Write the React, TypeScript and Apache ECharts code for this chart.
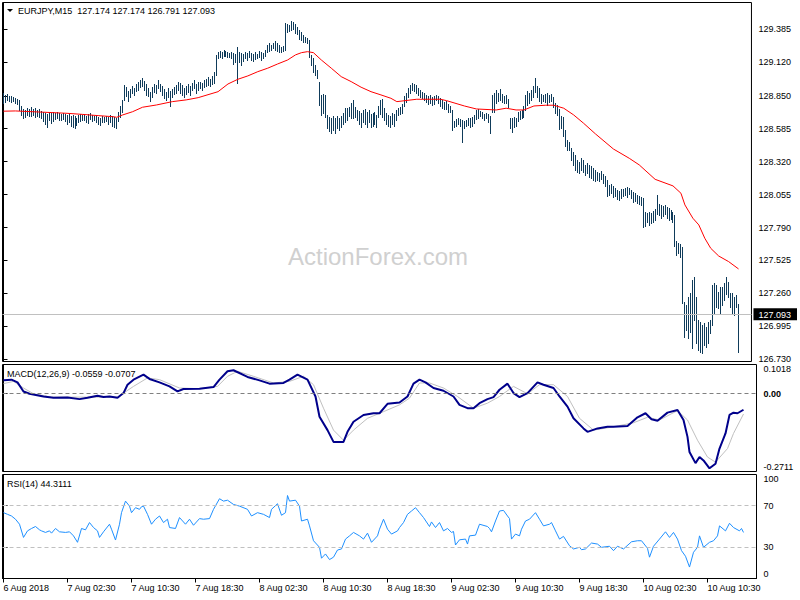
import React, { useEffect, useRef } from "react";
import * as echarts from "echarts";

const FONT = '"Liberation Sans", Arial, sans-serif';

// ---- OHLC bar highs / lows (EURJPY M15), bar 0 = 6 Aug 18:30 ----
const highs = [
128.873,128.857,128.865,128.849,128.849,128.841,128.833,128.825,128.817,128.769,
128.744,128.736,128.752,128.744,128.760,128.744,128.752,128.736,128.744,128.728,
128.720,128.712,128.704,128.720,128.712,128.720,128.712,128.720,128.712,128.704,
128.712,128.704,128.696,128.704,128.688,128.696,128.688,128.672,128.696,128.704,
128.696,128.704,128.688,128.704,128.712,128.696,128.688,128.696,128.680,128.672,
128.688,128.680,128.688,128.680,128.696,128.688,128.680,128.672,128.720,128.769,
128.817,128.937,128.921,128.889,128.905,128.929,128.913,128.945,128.961,128.977,
128.993,128.969,128.945,128.913,128.881,128.921,128.945,128.937,128.977,128.945,
128.929,128.905,128.881,128.913,128.889,128.905,128.921,128.937,128.961,128.953,
128.937,128.913,128.929,128.945,128.929,128.953,128.977,128.945,128.961,128.961,
128.953,128.977,128.985,129.002,128.985,129.010,129.042,129.179,129.203,129.211,
129.203,129.219,129.211,129.203,129.195,129.203,129.195,129.187,129.243,129.203,
129.195,129.187,129.203,129.195,129.211,129.195,129.187,129.203,129.187,129.211,
129.203,129.195,129.219,129.259,129.275,129.259,129.275,129.291,129.275,129.259,
129.243,129.251,129.436,129.428,129.420,129.452,129.444,129.428,129.404,129.380,
129.364,129.339,129.323,129.315,129.299,129.179,129.154,129.098,129.058,128.961,
128.857,128.865,128.857,128.696,128.680,128.672,128.688,128.672,128.688,128.672,
128.688,128.712,128.752,128.752,128.760,128.793,128.817,128.760,128.736,128.728,
128.712,128.736,128.744,128.720,128.736,128.704,128.712,128.720,128.696,128.769,
128.817,128.825,128.752,128.712,128.696,128.688,128.712,128.704,128.736,128.752,
128.760,128.785,128.849,128.873,128.913,128.937,128.953,128.945,128.937,128.913,
128.897,128.881,128.873,128.857,128.849,128.857,128.841,128.849,128.857,128.849,
128.833,128.817,128.801,128.809,128.785,128.769,128.736,128.648,128.664,128.672,
128.664,128.656,128.648,128.656,128.672,128.672,128.680,128.696,128.736,128.744,
128.728,128.720,128.704,128.712,128.704,128.688,128.857,128.873,128.897,128.873,
128.905,128.865,128.849,128.857,128.825,128.672,128.672,128.680,128.672,128.720,
128.728,128.736,128.769,128.857,128.889,128.873,128.897,128.929,128.993,128.929,
128.913,128.865,128.857,128.865,128.873,128.857,128.865,128.841,128.793,128.777,
128.744,128.688,128.680,128.575,128.495,128.479,128.430,128.398,128.374,128.334,
128.318,128.350,128.334,128.293,128.310,128.293,128.285,128.269,128.253,128.237,
128.229,128.245,128.221,128.205,128.173,128.133,128.141,128.125,128.108,128.092,
128.084,128.100,128.100,128.108,128.116,128.108,128.092,128.076,128.068,128.052,
128.044,128.036,128.028,127.916,127.908,127.916,127.908,127.924,127.940,128.052,
127.980,127.972,127.964,127.972,127.956,127.948,127.932,127.916,127.891,127.682,
127.666,127.658,127.634,127.192,127.168,127.232,127.264,127.368,127.392,127.232,
127.047,127.031,127.007,127.023,126.991,127.031,127.047,127.328,127.344,127.328,
127.272,127.312,127.312,127.344,127.392,127.352,127.264,127.264,127.232,127.248,
127.174
];

const lows = [
128.793,128.801,128.817,128.809,128.801,128.809,128.793,128.785,128.736,128.696,
128.672,128.680,128.696,128.688,128.688,128.696,128.680,128.688,128.680,128.672,
128.648,128.624,128.600,128.656,128.632,128.648,128.664,128.672,128.656,128.656,
128.664,128.648,128.624,128.640,128.608,128.600,128.592,128.616,128.640,128.648,
128.656,128.656,128.640,128.632,128.664,128.648,128.656,128.640,128.624,128.616,
128.640,128.640,128.648,128.624,128.640,128.608,128.600,128.592,128.648,128.680,
128.720,128.817,128.849,128.809,128.841,128.873,128.857,128.889,128.897,128.921,
128.929,128.897,128.857,128.849,128.809,128.841,128.881,128.873,128.913,128.889,
128.857,128.833,128.817,128.841,128.769,128.841,128.865,128.873,128.897,128.873,
128.857,128.841,128.865,128.881,128.857,128.897,128.913,128.873,128.897,128.913,
128.897,128.921,128.929,128.937,128.929,128.945,128.953,129.018,129.154,129.162,
129.154,129.170,129.170,129.162,129.162,129.154,129.106,129.122,128.953,129.122,
129.098,129.130,129.154,129.138,129.162,129.138,129.130,129.146,129.154,129.162,
129.138,129.154,129.170,129.203,129.211,129.219,129.235,129.219,129.211,129.203,
129.203,129.211,129.219,129.364,129.372,129.380,129.388,129.356,129.348,129.307,
129.299,129.283,129.283,129.275,129.162,129.098,129.042,129.018,128.993,128.777,
128.696,128.712,128.680,128.592,128.567,128.551,128.575,128.551,128.592,128.575,
128.600,128.624,128.640,128.656,128.688,128.672,128.672,128.680,128.656,128.624,
128.600,128.640,128.624,128.600,128.640,128.600,128.608,128.624,128.600,128.680,
128.704,128.680,128.656,128.624,128.608,128.600,128.624,128.608,128.656,128.696,
128.704,128.712,128.769,128.801,128.841,128.873,128.897,128.889,128.873,128.857,
128.841,128.833,128.817,128.801,128.785,128.793,128.777,128.785,128.817,128.793,
128.769,128.752,128.744,128.744,128.720,128.720,128.575,128.600,128.608,128.624,
128.608,128.479,128.592,128.608,128.616,128.600,128.608,128.632,128.664,128.672,
128.688,128.672,128.656,128.672,128.640,128.551,128.720,128.720,128.793,128.809,
128.817,128.801,128.793,128.793,128.760,128.592,128.559,128.600,128.608,128.648,
128.664,128.672,128.680,128.736,128.777,128.793,128.817,128.841,128.881,128.841,
128.809,128.793,128.809,128.801,128.777,128.801,128.809,128.760,128.712,128.696,
128.583,128.592,128.527,128.446,128.414,128.414,128.334,128.293,128.253,128.237,
128.229,128.253,128.237,128.213,128.229,128.197,128.189,128.173,128.165,128.173,
128.165,128.181,128.149,128.125,128.044,128.052,128.068,128.036,128.044,128.020,
128.012,128.028,128.044,128.052,128.036,128.060,128.028,127.996,128.004,127.988,
127.980,127.972,127.795,127.803,127.835,127.811,127.827,127.835,127.851,127.900,
127.892,127.867,127.883,127.900,127.867,127.851,127.859,127.835,127.642,127.570,
127.586,127.553,127.184,126.910,126.966,126.902,126.950,126.821,127.047,126.862,
126.805,126.789,126.781,126.846,126.830,126.862,126.942,127.007,127.103,127.151,
127.143,127.103,127.168,127.208,127.256,127.232,127.151,127.103,127.087,127.151,
126.791
];

// ---- moving average (red), [bar index, price] ----
const maPoints = [
[0,128.726],[6,128.728],[20,128.718],[32,128.709],[40,128.700],[48,128.690],[55,128.682],[57,128.677],
[60,128.696],[65,128.722],[70,128.758],[77,128.776],[85,128.803],[92,128.817],[98,128.835],
[108,128.883],[113,128.945],[118,128.983],[123,129.010],[128,129.044],[133,129.072],[138,129.106],
[143,129.138],[147,129.179],[150,129.197],[153,129.205],[156,129.197],[160,129.138],[165,129.072],
[170,129.004],[175,128.964],[180,128.919],[185,128.883],[190,128.857],[195,128.830],[198,128.803],
[208,128.822],[220,128.822],[223,128.811],[232,128.768],[238,128.744],[248,128.736],[253,128.750],
[258,128.736],[262,128.736],[267,128.768],[273,128.774],[277,128.774],[282,128.750],[287,128.696],
[292,128.629],[298,128.543],[307,128.422],[315,128.347],[320,128.294],[328,128.178],[337,128.125],
[341,128.066],[343,127.972],[347,127.865],[350,127.811],[353,127.704],[356,127.623],[360,127.561],
[365,127.516],[370,127.457]
];

// ---- MACD(12,26,9) main and signal ----
const macdPoints = [
[0,0.0466],[4,0.0490],[7,0.0395],[10,0.0079],[13,-0.0002],[20,-0.0097],[25,-0.0143],[32,-0.0132],
[38,-0.0189],[42,-0.0143],[47,-0.0073],[50,-0.0118],[53,-0.0097],[57,-0.0143],[60,0.0022],[62,0.0314],
[65,0.0490],[70,0.0666],[73,0.0515],[78,0.0395],[83,0.0255],[87,0.0079],[90,0.0163],[98,0.0174],
[105,0.0233],[108,0.0490],[112,0.0782],[115,0.0817],[122,0.0585],[128,0.0466],[133,0.0350],[140,0.0374],
[143,0.0490],[147,0.0666],[152,0.0490],[156,-0.0097],[158,-0.0801],[162,-0.1269],[165,-0.1680],
[170,-0.1680],[172,-0.1329],[175,-0.0977],[180,-0.0741],[185,-0.0681],[188,-0.0681],[192,-0.0354],
[198,-0.0308],[202,-0.0097],[205,0.0350],[208,0.0490],[211,0.0395],[215,0.0198],[220,0.0103],
[225,-0.0097],[228,-0.0389],[232,-0.0505],[235,-0.0505],[238,-0.0329],[242,-0.0189],[245,-0.0118],
[248,0.0138],[252,0.0350],[255,0.0022],[258,-0.0118],[262,0.0022],[267,0.0395],[270,0.0314],
[275,0.0198],[278,-0.0097],[282,-0.0449],[285,-0.0857],[290,-0.1209],[292,-0.1329],[297,-0.1209],
[302,-0.1153],[305,-0.1153],[312,-0.1128],[317,-0.0822],[321,-0.0681],[324,-0.0892],[327,-0.0942],
[332,-0.0660],[337,-0.0565],[340,-0.0917],[342,-0.1504],[343,-0.2032],[346,-0.2419],[348,-0.2208],
[350,-0.2324],[353,-0.2600],[356,-0.2440],[358,-0.1912],[361,-0.1385],[363,-0.0741],[365,-0.0660],
[367,-0.0681],[370,-0.0559]
];

const signalPoints = [
[0,0.0350],[5,0.0430],[10,0.0198],[15,-0.0002],[24,-0.0118],[40,-0.0118],[57,-0.0118],[60,0.0022],
[65,0.0255],[72,0.0550],[78,0.0490],[88,0.0198],[98,0.0174],[107,0.0255],[112,0.0606],[117,0.0782],
[125,0.0606],[135,0.0374],[143,0.0430],[150,0.0606],[155,0.0314],[160,-0.0505],[165,-0.1269],
[170,-0.1621],[175,-0.1269],[182,-0.0857],[190,-0.0625],[198,-0.0389],[203,-0.0153],[208,0.0374],
[213,0.0374],[220,0.0198],[227,-0.0097],[235,-0.0505],[242,-0.0329],[248,-0.0097],[255,0.0255],
[262,-0.0002],[268,0.0314],[275,0.0314],[282,-0.0097],[288,-0.0857],[295,-0.1269],[305,-0.1153],
[315,-0.1012],[322,-0.0822],[328,-0.0917],[337,-0.0590],[342,-0.0917],[347,-0.1621],[352,-0.2208],
[356,-0.2384],[362,-0.1912],[365,-0.1385],[370,-0.0707]
];

// ---- RSI(14) ----
const rsiPoints = [
[0,63.3],[2,61.7],[4,60.1],[6,57.0],[8,52.2],[10,39.5],[12,45.8],[14,48.1],[16,50.0],[18,46.8],
[19,45.8],[21,44.3],[23,45.8],[24,43.6],[26,48.1],[28,44.9],[31,44.3],[33,44.9],[35,41.0],[37,34.8],
[39,48.1],[41,46.8],[43,53.8],[45,49.0],[47,45.8],[48,39.5],[50,44.9],[53,52.2],[54,47.4],[56,37.0],
[58,52.2],[59,63.3],[61,74.4],[63,69.6],[64,63.3],[66,68.1],[68,66.5],[69,69.0],[70,69.6],[72,61.7],
[74,52.2],[76,57.0],[78,60.1],[80,53.8],[82,57.0],[83,49.0],[86,48.1],[88,58.6],[91,52.2],[93,57.0],
[95,51.2],[98,57.6],[100,57.0],[103,57.6],[105,66.5],[108,76.7],[110,74.4],[112,75.3],[115,71.2],
[118,69.6],[122,66.5],[124,60.1],[127,63.3],[130,61.7],[133,58.6],[134,66.5],[137,71.9],[139,60.8],
[141,63.3],[142,79.8],[143,74.4],[146,75.3],[148,69.6],[149,55.3],[152,57.0],[153,50.6],[155,36.3],
[158,30.0],[159,19.5],[161,23.6],[163,18.2],[165,20.5],[167,27.4],[169,28.4],[171,37.9],[173,41.0],
[175,44.3],[178,41.0],[180,37.9],[182,43.6],[184,34.8],[187,41.0],[188,47.4],[190,57.0],[192,47.4],
[194,42.7],[197,45.8],[198,49.0],[200,53.8],[202,61.7],[204,64.9],[206,68.1],[208,63.3],[210,58.6],
[213,50.0],[214,54.4],[216,49.0],[218,53.8],[220,45.8],[222,48.1],[224,44.3],[225,45.2],[226,32.2],
[228,37.2],[231,37.9],[232,33.1],[233,41.0],[236,41.7],[238,52.2],[242,50.0],[243,48.1],[244,44.9],
[246,55.3],[248,64.9],[250,65.5],[252,60.1],[253,57.6],[254,37.9],[256,42.7],[258,41.0],[259,47.4],
[261,55.3],[263,57.0],[266,63.3],[268,57.0],[270,50.6],[273,52.2],[274,53.8],[276,45.8],[278,37.9],
[280,40.5],[283,31.5],[285,28.4],[288,30.0],[289,27.7],[291,28.4],[294,34.1],[297,33.1],[299,30.0],
[303,31.0],[305,26.8],[307,31.0],[310,28.4],[314,35.3],[317,36.3],[319,36.3],[322,29.0],[323,20.5],
[325,31.0],[328,37.9],[331,44.9],[333,39.5],[335,44.3],[337,37.9],[339,26.8],[341,21.4],[343,11.0],
[345,25.2],[347,30.0],[348,41.0],[350,30.0],[353,34.8],[355,36.3],[357,41.0],[358,50.6],[361,45.8],
[363,53.1],[365,49.0],[368,45.8],[369,48.1],[370,44.3]
];

// ---- axis ticks / labels ----
const priceTicks = [126.73, 126.995, 127.26, 127.525, 127.79, 128.055, 128.32, 128.585, 128.85, 129.12, 129.385];
const lastPrice = 127.093;
const macdTicks = [-0.2711, 0, 0.1018];
const rsiTicks = [0, 30, 70, 100];
const rsiLevels = [70, 30];
const timeTickIdx = [0, 32, 64, 96, 128, 160, 192, 224, 256, 288, 320, 352];
const timeLabels = [
  "6 Aug 2018", "7 Aug 02:30", "7 Aug 10:30", "7 Aug 18:30", "8 Aug 02:30", "8 Aug 10:30",
  "8 Aug 18:30", "9 Aug 02:30", "9 Aug 10:30", "9 Aug 18:30", "10 Aug 02:30", "10 Aug 10:30",
];
const titleText = "EURJPY,M15  127.174 127.174 126.791 127.093";
const macdText = "MACD(12,26,9) -0.0559 -0.0707";
const rsiText = "RSI(14) 44.3111";

export default function App() {
  const ref = useRef<HTMLDivElement>(null);

  useEffect(() => {
    const chart = echarts.init(ref.current as HTMLDivElement, null, { renderer: "svg" });
    const gridL = 2.5, gridW = 754;
    const xMin = -0.5, xMax = 376.5;
    const lbl = { color: "#000", fontSize: 9, fontFamily: FONT };

    const xHidden = (gi: number) => ({
      gridIndex: gi, type: "value", min: xMin, max: xMax, show: false,
    });

    const option: any = {
      animation: false,
      backgroundColor: "#fff",
      grid: [
        { left: gridL, top: 2.5, width: gridW, height: 359, show: true, borderColor: "#000", borderWidth: 1 },
        { left: gridL, top: 364.5, width: gridW, height: 107, show: true, borderColor: "#000", borderWidth: 1 },
        { left: gridL, top: 474.5, width: gridW, height: 104, show: true, borderColor: "#000", borderWidth: 1 },
      ],
      xAxis: [
        xHidden(0),
        xHidden(1),
        {
          gridIndex: 2, type: "value", min: xMin, max: xMax,
          axisLine: { show: true, lineStyle: { color: "#000" } },
          splitLine: { show: false },
          axisTick: { show: true, length: 4, customValues: timeTickIdx, lineStyle: { color: "#000" } },
          axisLabel: {
            ...lbl, customValues: timeTickIdx, align: "left", margin: 5,
            formatter: (v: number) => timeLabels[timeTickIdx.indexOf(Math.round(v))] ?? "",
          },
        },
      ],
      yAxis: [
        {
          gridIndex: 0, type: "value", position: "right",
          min: 126.73 - 2.2 / 124.3, max: 126.73 + 356.8 / 124.3,
          axisLine: { show: true, lineStyle: { color: "#000" } },
          splitLine: { show: false },
          axisTick: { show: true, length: 4, customValues: priceTicks, lineStyle: { color: "#000" } },
          axisLabel: {
            ...lbl, margin: 2,
            customValues: [...priceTicks, lastPrice],
            formatter: (v: number) =>
              Math.abs(v - lastPrice) < 1e-6 ? `{hl|${v.toFixed(3)}}` : `{n|${v.toFixed(3)}}`,
            rich: {
              n: { ...lbl, padding: [0, 0, 0, 5] },
              hl: { fontSize: 9, fontFamily: FONT, color: "#fff", backgroundColor: "#000", padding: [2, 6, 1, 5] },
            },
          },
        },
        {
          gridIndex: 1, type: "value", position: "right", min: -0.2711, max: 0.1018,
          axisLine: { show: true, lineStyle: { color: "#000" } },
          splitLine: { show: false },
          axisTick: { show: true, length: 4, customValues: macdTicks, lineStyle: { color: "#000" } },
          axisLabel: {
            ...lbl, margin: 2, customValues: macdTicks,
            verticalAlignMinLabel: "bottom", verticalAlignMaxLabel: "top",
            formatter: (v: number) => (v === 0 ? "{b|0.00}" : `{n|${v.toFixed(4)}}`),
            rich: {
              n: { ...lbl, padding: [0, 0, 0, 5] },
              b: { ...lbl, fontWeight: "bold", padding: [0, 0, 0, 5] },
            },
          },
        },
        {
          gridIndex: 2, type: "value", position: "right", min: 0, max: 100,
          axisLine: { show: true, lineStyle: { color: "#000" } },
          splitLine: { show: false },
          axisTick: { show: true, length: 4, customValues: rsiTicks, lineStyle: { color: "#000" } },
          axisLabel: {
            ...lbl, margin: 2, customValues: rsiTicks,
            verticalAlignMinLabel: "bottom", verticalAlignMaxLabel: "top",
            formatter: (v: number) => `{n|${v}}`,
            rich: { n: { ...lbl, padding: [0, 0, 0, 5] } },
          },
        },
      ],
      series: [
        {
          name: "price line", type: "line", xAxisIndex: 0, yAxisIndex: 0, data: [], silent: true, z: 1,
          markLine: {
            silent: true, symbol: ["none", "none"], label: { show: false },
            lineStyle: { color: "#c0c0c0", type: "solid", width: 1 },
            data: [{ yAxis: lastPrice }],
          },
        },
        {
          name: "bars", type: "custom", xAxisIndex: 0, yAxisIndex: 0, silent: true, z: 3, clip: true,
          data: highs.map((h, i) => [i, h, lows[i]]),
          encode: { x: 0, y: [1, 2] },
          renderItem: (params: any, api: any) => {
            const i = api.value(0);
            const top = api.coord([i, api.value(1)]);
            const bot = api.coord([i, api.value(2)]);
            const x = Math.floor(top[0]) + 0.5;
            return {
              type: "line",
              shape: { x1: x, y1: Math.round(top[1]), x2: x, y2: Math.round(bot[1]) + 1 },
              style: { stroke: "#0f3b5a", lineWidth: 1 },
            };
          },
        },
        {
          name: "MA", type: "line", xAxisIndex: 0, yAxisIndex: 0, data: maPoints, symbol: "none",
          silent: true, z: 4, lineStyle: { color: "#ff0000", width: 1 },
        },
        {
          name: "Signal", type: "line", xAxisIndex: 1, yAxisIndex: 1, data: signalPoints, symbol: "none",
          silent: true, z: 3, lineStyle: { color: "#c0c0c0", width: 1 },
          markLine: {
            silent: true, symbol: ["none", "none"], label: { show: false },
            lineStyle: { color: "#808080", type: [4, 3], width: 1 },
            data: [{ yAxis: 0 }],
          },
        },
        {
          name: "MACD", type: "line", xAxisIndex: 1, yAxisIndex: 1, data: macdPoints, symbol: "none",
          silent: true, z: 4, lineStyle: { color: "#00008b", width: 2 },
        },
        {
          name: "RSI", type: "line", xAxisIndex: 2, yAxisIndex: 2, data: rsiPoints, symbol: "none",
          silent: true, z: 4, lineStyle: { color: "#1e90ff", width: 1 },
          markLine: {
            silent: true, symbol: ["none", "none"], label: { show: false },
            lineStyle: { color: "#c0c0c0", type: [4, 3], width: 1 },
            data: rsiLevels.map((v) => ({ yAxis: v })),
          },
        },
      ],
      graphic: [
        {
          type: "text", x: 378, y: 256, z: 0, silent: true,
          style: { text: "ActionForex.com", font: `24px ${FONT}`, fill: "#d0d0d0", align: "center", verticalAlign: "middle" },
        },
        { type: "polygon", z: 10, silent: true, shape: { points: [[7, 9], [13, 9], [10, 12]] }, style: { fill: "#000" } },
        {
          type: "text", x: 18, y: 11, z: 10, silent: true,
          style: { text: titleText, font: `9px ${FONT}`, fill: "#000", verticalAlign: "middle" },
        },
        {
          type: "text", x: 7, y: 374, z: 10, silent: true,
          style: { text: macdText, font: `9px ${FONT}`, fill: "#000", verticalAlign: "middle" },
        },
        {
          type: "text", x: 7, y: 484, z: 10, silent: true,
          style: { text: rsiText, font: `9px ${FONT}`, fill: "#000", verticalAlign: "middle" },
        },
      ],
    };

    chart.setOption(option);
    return () => chart.dispose();
  }, []);

  return (
    <div
      ref={ref}
      style={{ position: "fixed", left: 0, top: 0, width: 800, height: 600, background: "#fff" }}
    />
  );
}
